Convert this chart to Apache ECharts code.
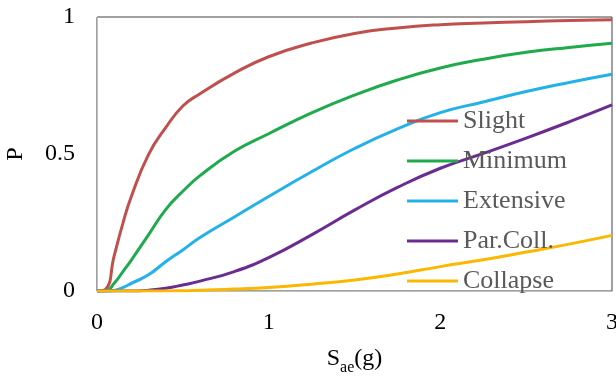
<!DOCTYPE html>
<html>
<head>
<meta charset="utf-8">
<script src="https://cdn.jsdelivr.net/npm/echarts@6/dist/echarts.min.js"></script>
<style>
  html, body { margin: 0; padding: 0; background: #fff; }
  #chart { width: 616px; height: 379px; }
</style>
</head>
<body>
<div id="chart"></div>
<script>
// Sa (g) sample positions
var xs = [0, 0.05, 0.1, 0.15, 0.2, 0.3, 0.4, 0.5, 0.6, 0.8, 1.0, 1.25, 1.5, 1.75, 2.0, 2.25, 2.5, 2.75, 3.0];

// probability
var slight    = [0, 0.006, 0.128, 0.245, 0.345, 0.498, 0.596, 0.675, 0.72, 0.795, 0.855, 0.905, 0.94, 0.96, 0.972, 0.978, 0.983, 0.987, 0.99];
var minimum   = [0, 0.0, 0.028, 0.07, 0.113, 0.205, 0.297, 0.364, 0.421, 0.51, 0.574, 0.65, 0.715, 0.77, 0.814, 0.846, 0.871, 0.889, 0.904];
var extensive = [0, 0.0, 0.002, 0.012, 0.028, 0.059, 0.107, 0.15, 0.195, 0.27, 0.345, 0.435, 0.52, 0.592, 0.651, 0.69, 0.728, 0.761, 0.791];
var parColl   = [0, 0, 0, 0, 0, 0.003, 0.01, 0.022, 0.036, 0.071, 0.122, 0.205, 0.295, 0.378, 0.448, 0.502, 0.558, 0.617, 0.679];
var collapse  = [0, 0, 0, 0, 0, 0, 0, 0.001, 0.003, 0.007, 0.013, 0.025, 0.04, 0.062, 0.089, 0.114, 0.142, 0.171, 0.203];

var names = ["Slight", "Minimum", "Extensive", "Par.Coll.", "Collapse"];
var colors = ["#C0504D", "#1FAA4B", "#22B1E8", "#6A2C91", "#FBB800"];
var values = [slight, minimum, extensive, parColl, collapse];

var font = "Liberation Serif";

function pairs(ys) {
  return xs.map(function (x, i) { return [x, ys[i]]; });
}

var chart = echarts.init(document.getElementById("chart"));

var option = {
  animation: false,
  backgroundColor: "#fff",
  grid: {
    left: 97, right: 4, top: 17, bottom: 88,
    show: true, borderColor: "#404040", borderWidth: 1,
    outerBoundsMode: "none"
  },
  legend: {
    orient: "vertical",
    left: 402,
    top: 103,
    icon: "rect",
    itemWidth: 51,
    itemHeight: 3,
    itemGap: 14,
    data: names,
    textStyle: { fontFamily: font, fontSize: 26, color: "#595959", lineHeight: 25 }
  },
  xAxis: {
    type: "value",
    min: 0, max: 3, interval: 1,
    splitLine: { show: false },
    axisTick: { show: false },
    axisLine: { lineStyle: { color: "#BFBFBF", width: 1 } },
    axisLabel: { fontFamily: font, fontSize: 24, color: "#000", margin: 20 },
    name: "{s|S}{sub|ae}{s|(g)}",
    nameLocation: "middle",
    nameGap: 56,
    nameTextStyle: {
      rich: {
        s: { fontFamily: font, fontSize: 24, color: "#000", verticalAlign: "top", lineHeight: 24 },
        sub: { fontFamily: font, fontSize: 16, color: "#000", verticalAlign: "top", lineHeight: 16, padding: [13, 0, 0, 0] }
      }
    }
  },
  yAxis: {
    type: "value",
    min: 0, max: 1, interval: 0.5,
    splitLine: { show: false },
    axisTick: { show: false },
    axisLine: { show: true, lineStyle: { color: "#BFBFBF", width: 1 } },
    axisLabel: { fontFamily: font, fontSize: 24, color: "#000", margin: 22 },
    name: "P",
    nameLocation: "middle",
    nameGap: 69,
    nameTextStyle: { fontFamily: font, fontSize: 24, color: "#000" }
  },
  series: names.map(function (n, i) {
    return {
      name: n,
      type: "line",
      smooth: 0.5,
      showSymbol: false,
      data: pairs(values[i]),
      itemStyle: { color: colors[i] },
      lineStyle: { color: colors[i], width: 3 }
    };
  })
};

option && chart.setOption(option);
</script>
</body>
</html>
